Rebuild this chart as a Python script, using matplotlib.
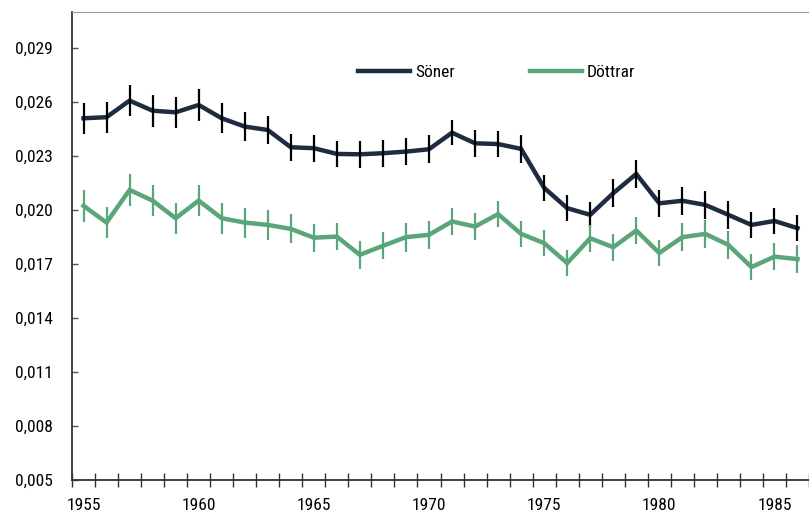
import matplotlib.pyplot as plt
import numpy as np
from matplotlib.ticker import FuncFormatter
from matplotlib import font_manager

# pick a condensed face if one is around
names = {f.name for f in font_manager.fontManager.ttflist}
narrow = [n for n in ['Roboto Condensed', 'Liberation Sans Narrow', 'Open Sans Condensed',
                      'Noto Sans Condensed'] if n in names]
plt.rcParams['font.family'] = narrow + ['DejaVu Sans']
if not narrow:
    plt.rcParams['font.stretch'] = 'condensed'

years = np.arange(1955, 1987)

soner = [0.02508, 0.02514, 0.02606, 0.02550, 0.02541, 0.02582, 0.02508, 0.02462,
         0.02443, 0.02347, 0.02342, 0.02310, 0.02308, 0.02314, 0.02323, 0.02336,
         0.02428, 0.02369, 0.02365, 0.02338, 0.02122, 0.02009, 0.01972, 0.02092,
         0.02199, 0.02036, 0.02050, 0.02027, 0.01972, 0.01916, 0.01938, 0.01898]
soner_err = [0.00087, 0.00087, 0.00087, 0.00088, 0.00086, 0.00087, 0.00083, 0.00080,
             0.00078, 0.00075, 0.00075, 0.00074, 0.00074, 0.00074, 0.00076, 0.00078,
             0.00071, 0.00076, 0.00074, 0.00078, 0.00071, 0.00074, 0.00069, 0.00077,
             0.00079, 0.00074, 0.00077, 0.00077, 0.00076, 0.00074, 0.00072, 0.00071]

dottrar = [0.02022, 0.01929, 0.02110, 0.02051, 0.01953, 0.02051, 0.01953, 0.01929,
           0.01916, 0.01894, 0.01845, 0.01851, 0.01750, 0.01800, 0.01848, 0.01861,
           0.01935, 0.01907, 0.01976, 0.01866, 0.01815, 0.01704, 0.01842, 0.01792,
           0.01885, 0.01760, 0.01848, 0.01866, 0.01805, 0.01682, 0.01740, 0.01726]
dottrar_err = [0.00089, 0.00088, 0.00088, 0.00088, 0.00087, 0.00086, 0.00085, 0.00083,
               0.00082, 0.00080, 0.00078, 0.00074, 0.00076, 0.00076, 0.00081, 0.00079,
               0.00077, 0.00074, 0.00074, 0.00074, 0.00074, 0.00074, 0.00074, 0.00076,
               0.00077, 0.00074, 0.00077, 0.00076, 0.00077, 0.00074, 0.00074, 0.00076]

navy = '#1f2b40'
green = '#5aa579'

fig = plt.figure(figsize=(8.09, 5.17), dpi=100)
ax = fig.add_axes([0.089, 0.0716, 0.911, 0.9052])

l1, = ax.plot(years, soner, color=navy, lw=3.2, solid_joinstyle='miter', zorder=2)
l2, = ax.plot(years, dottrar, color=green, lw=3.2, solid_joinstyle='miter', zorder=2)
ax.errorbar(years, soner, yerr=soner_err, fmt='none', ecolor='black', elinewidth=1.6, zorder=3)
ax.errorbar(years, dottrar, yerr=dottrar_err, fmt='none', ecolor=green, elinewidth=1.6, zorder=3)

ax.set_xlim(1954.5, 1986.13)
ax.set_ylim(0.005, 0.03098)

# year labels sit on the categories, tick marks between them
ax.set_xticks(np.arange(1955, 1987, 5))
ax.set_xticks(np.arange(1954.5, 1987, 1), minor=True)
ax.tick_params(axis='x', which='major', length=0, pad=13, labelsize=12.5)
ax.tick_params(axis='x', which='minor', direction='inout', length=10, width=1, color='#333333')

ax.set_yticks(np.arange(0.005, 0.0291, 0.003))
ax.yaxis.set_major_formatter(FuncFormatter(lambda v, p: f'{v:.3f}'.replace('.', ',')))
ax.tick_params(axis='y', direction='in', length=4.5, width=1, color='#555555', labelsize=12.5, pad=14)

ax.spines['right'].set_visible(False)
ax.spines['top'].set_color('#999999')
ax.spines['left'].set_color('#333333')
ax.spines['bottom'].set_color('#333333')
ax.spines['left'].set_linewidth(1.3)
ax.spines['bottom'].set_linewidth(1.3)

ax.legend([l1, l2], ['Söner', 'Döttrar'], ncol=2, frameon=False, loc='upper left',
          bbox_to_anchor=(0.367, 0.92), handlelength=3.0, handletextpad=0.3,
          columnspacing=4.3, fontsize=12.5)

fig.savefig('out.png', dpi=100)
